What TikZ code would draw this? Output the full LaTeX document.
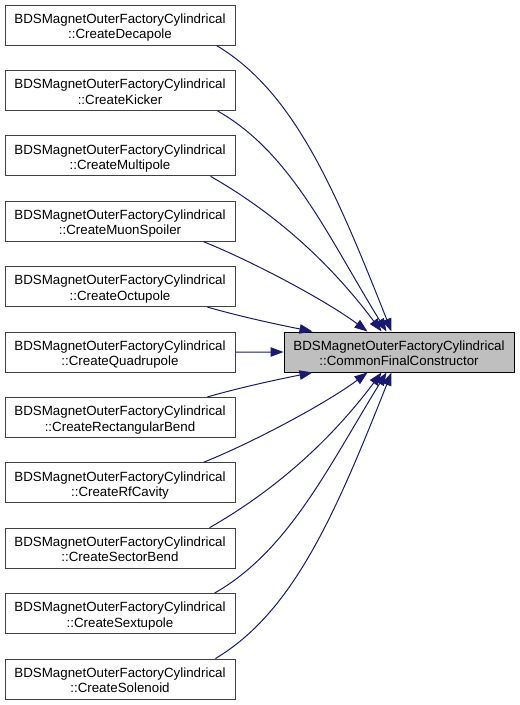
\documentclass[tikz,border=0pt]{standalone}
\usepackage{fontspec}
\setmainfont{Liberation Sans}
\usepackage{tikz}
\usetikzlibrary{positioning,calc}
\usetikzlibrary{arrows.meta}
\definecolor{edgeblue}{RGB}{25,25,112}
\definecolor{boxgray}{RGB}{64,64,64}
\definecolor{hilite}{RGB}{191,191,191}

\begin{document}
\begin{tikzpicture}[x=1pt,y=-1pt,
		caller/.style={draw=boxgray,line width=1pt,fill=white,text width=230pt,minimum height=40pt,inner sep=0pt,align=center,font=\fontsize{13.33}{15.5}\selectfont,
				execute at begin node={\rule{0pt}{15pt}},execute at end node={\rule[-3pt]{0pt}{3pt}}},
		callee/.style={caller,draw=black,fill=hilite},
		callarrow/.style={-{Triangle[length=13pt,width=9.5pt]},line width=1pt,draw=edgeblue}]
			\fill[white] (0,0) rectangle (520,705);
			\useasboundingbox (0,0) rectangle (520,705);
			\foreach \fn [count=\i] in {Decapole,Kicker,Multipole,MuonSpoiler,Octupole,Quadrupole,RectangularBend,RfCavity,SectorBend,Sextupole,Solenoid}{
					\node[caller] (c\i) at (120,{25+65.4*(\i-1)}) {BDSMagnetOuterFactoryCylindrical\\::Create\fn};
				}
			\node[callee] (cfc) at (399,352) {BDSMagnetOuterFactoryCylindrical\\::CommonFinalConstructor};
			% callers above
			\foreach \i/\sx/\ex/\ax/\ay/\bx/\by in {1/-19/108/77/46/-57/-144,2/-18/103/74/42/-58/-94,3/-25/98/70/40/-48/-64,4/-32/84/50/20/-40/-30,5/-28/29/35/10/-35/-7}{
					\draw[callarrow] ($(c\i.south east)+(\sx,0)$) .. controls +(\ax,\ay) and +(\bx,\by) .. ($(cfc.north west)+(\ex,0)$);
				}
			\draw[callarrow] (c6) -- (cfc);
			% callers below
			\foreach \i/\sx/\ex/\ax/\ay/\bx/\by in {7/-28/29/35/-10/-35/7,8/-32/84/50/-20/-40/30,9/-26/98/70/-40/-48/64,10/-21/103/74/-42/-58/94,11/-20/108/77/-46/-57/144}{
					\draw[callarrow] ($(c\i.north east)+(\sx,0)$) .. controls +(\ax,\ay) and +(\bx,\by) .. ($(cfc.south west)+(\ex,0)$);
				}
		\end{tikzpicture}
\end{document}
